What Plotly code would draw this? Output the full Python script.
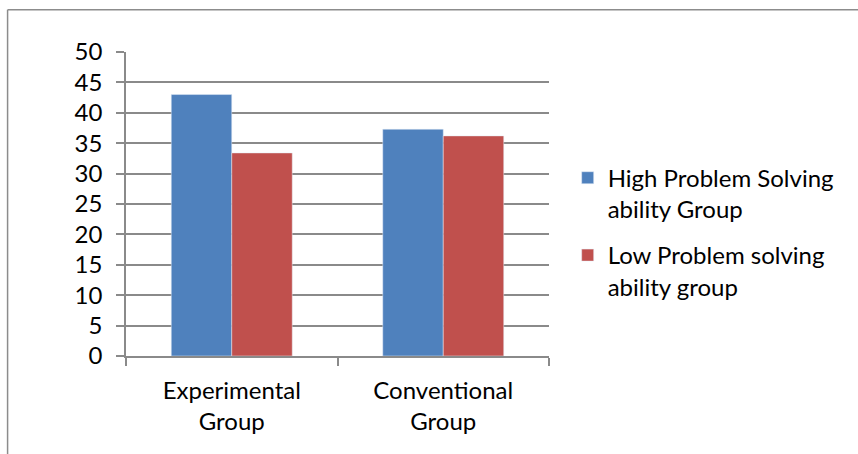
import plotly.graph_objects as go

# Mean scores by teaching group and problem-solving ability
categories = ["Experimental<br>Group", "Conventional<br>Group"]
high_ability = [43.0, 37.3]
low_ability = [33.4, 36.2]
series_names = ["High Problem Solving<br>ability Group", "Low Problem solving<br>ability group"]

W, H = 858, 454
L, R, T, B = 126, 549.3, 51.7, 356.0
FONT = "Lato, Open Sans, sans-serif"
GRID = "#8a8a8a"
FS = 24

fig = go.Figure()
fig.add_trace(go.Bar(x=categories, y=high_ability, name=series_names[0],
                     marker_color="#4F81BD", legendgroup="a"))
fig.add_trace(go.Bar(x=categories, y=low_ability, name=series_names[1],
                     marker_color="#C0504D", legendgroup="b"))


def px_x(p):
    return (p - L) / (R - L)


def px_y(p):
    return (B - p) / (B - T)


# outer chart frame (left and top edges)
frame = [
    dict(x0=px_x(7.5), x1=px_x(7.5), y0=px_y(9.5), y1=px_y(460)),
    dict(x0=px_x(7.5), x1=px_x(870), y0=px_y(9.5), y1=px_y(9.5)),
]
shapes = [dict(type="line", xref="paper", yref="paper", line=dict(color="#8c8c8c", width=1.5), **f)
          for f in frame]

fig.update_layout(
    width=W, height=H,
    margin=dict(l=L, r=W - R, t=T, b=H - B, pad=0),
    paper_bgcolor="white", plot_bgcolor="white",
    font=dict(family=FONT, size=FS, color="#000000"),
    barmode="group", bargap=0.428, bargroupgap=0,
    showlegend=True,
    legend=dict(x=px_x(568), y=px_y(232), xanchor="left", yanchor="middle",
                valign="top", tracegroupgap=12, traceorder="grouped",
                font=dict(family=FONT, size=FS, color="#000000")),
    xaxis=dict(showline=True, linecolor=GRID, linewidth=1.5, ticks="outside",
               tickson="boundaries", ticklen=8, tickcolor=GRID, tickwidth=1.5,
               showgrid=False, tickfont=dict(size=FS), ticklabelstandoff=12),
    yaxis=dict(range=[0, 50], dtick=5, tick0=0, showline=True, linecolor=GRID,
               linewidth=1.5, showgrid=True, gridcolor=GRID, gridwidth=1.5,
               ticks="outside", ticklen=8, tickcolor=GRID, tickwidth=1.5,
               zeroline=False, tickfont=dict(size=FS), ticklabelstandoff=9),
    shapes=shapes,
)

fig.write_html("out.html")
